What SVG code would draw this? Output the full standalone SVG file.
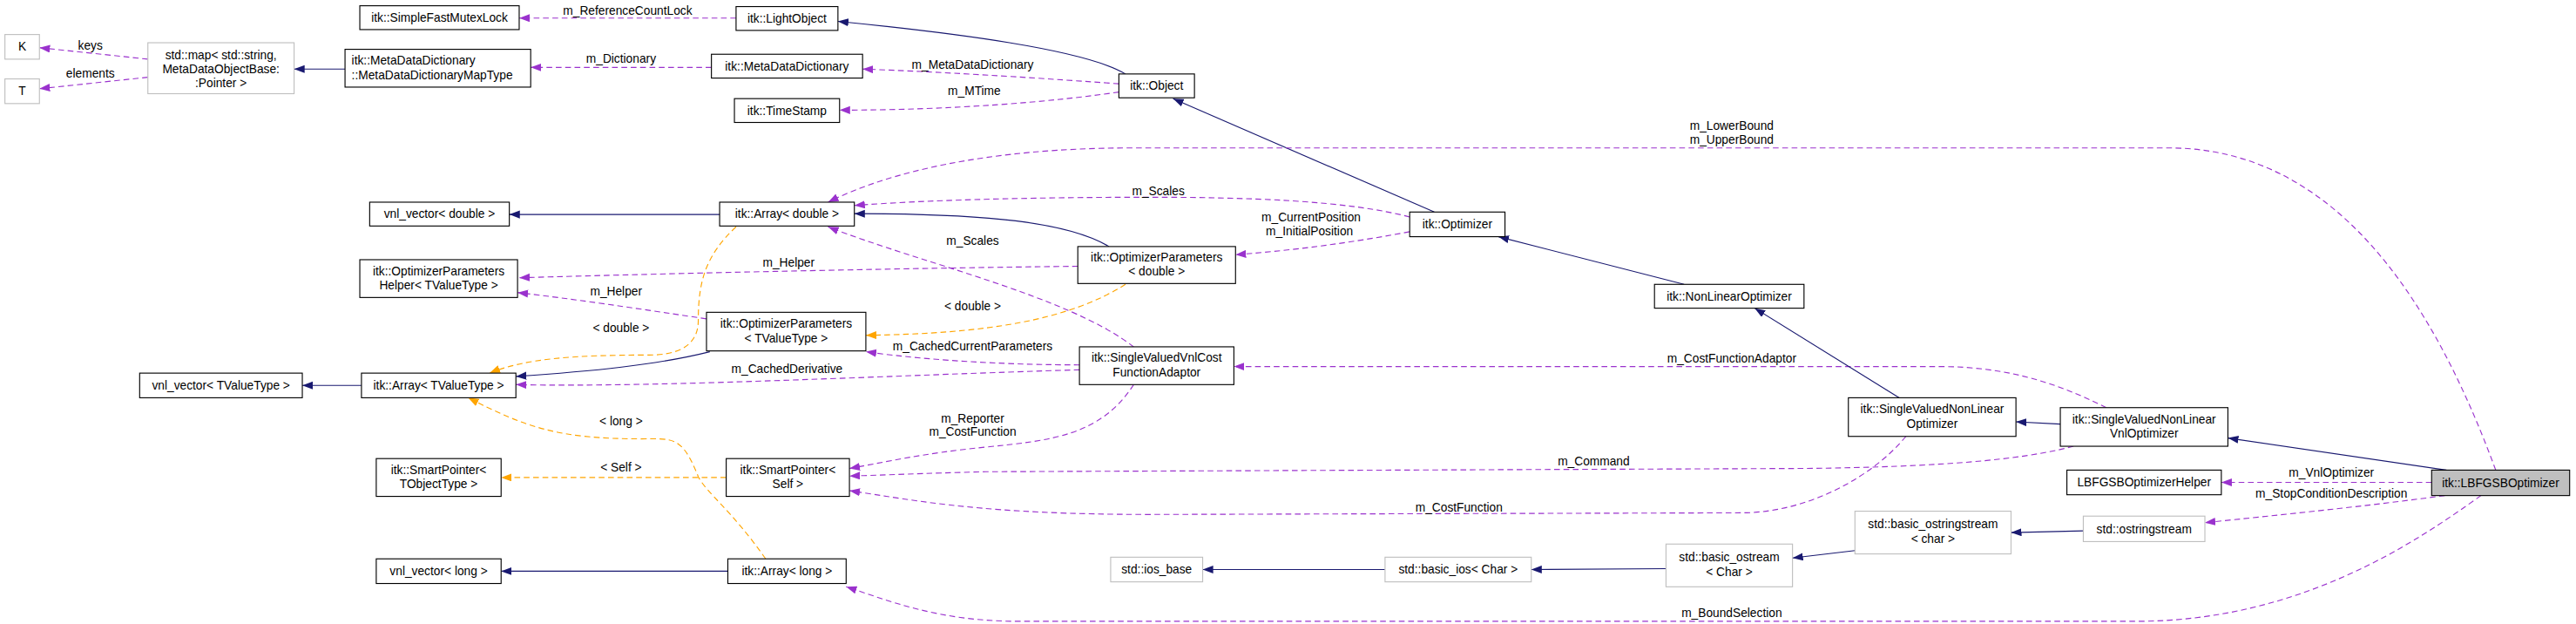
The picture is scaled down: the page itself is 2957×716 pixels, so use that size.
<svg xmlns="http://www.w3.org/2000/svg" width="2957" height="716" viewBox="0 0 2957 716">
<style>
text{font-family:"Liberation Sans","DejaVu Sans",sans-serif;font-size:7.3px;fill:#000}
.c{text-anchor:middle}
.b{fill:#fff;stroke:#000;stroke-width:0.6}
.g{fill:#fff;stroke:#bfbfbf;stroke-width:0.6}
.s{fill:#bfbfbf;stroke:#000;stroke-width:0.6}
.inh{fill:none;stroke:#191970;stroke-width:0.6;marker-end:url(#an)}
.use{fill:none;stroke:#9a32cd;stroke-width:0.6;stroke-dasharray:3.5,2.2;marker-end:url(#ap)}
.tpl{fill:none;stroke:#ffa500;stroke-width:0.6;stroke-dasharray:3.5,2.2;marker-end:url(#ao)}
</style>
<defs>
<marker id="an" markerUnits="userSpaceOnUse" markerWidth="7" markerHeight="5" refX="6.4" refY="2.4" orient="auto"><path d="M0,0 L6.4,2.4 L0,4.8z" fill="#191970"/></marker>
<marker id="ap" markerUnits="userSpaceOnUse" markerWidth="7" markerHeight="5" refX="6.4" refY="2.4" orient="auto"><path d="M0,0 L6.4,2.4 L0,4.8z" fill="#9a32cd"/></marker>
<marker id="ao" markerUnits="userSpaceOnUse" markerWidth="7" markerHeight="5" refX="6.4" refY="2.4" orient="auto"><path d="M0,0 L6.4,2.4 L0,4.8z" fill="#ffa500"/></marker>
</defs>
<rect width="2957" height="716" fill="#fff"/>
<g transform="scale(1.886)">
<g id="edges">
<path class="use" d="M90,36 L24,29"/><text class="c" x="55" y="30">keys</text>
<path class="use" d="M90,47 L24,54"/><text class="c" x="55" y="47">elements</text>
<path class="inh" d="M210,42 L179,42"/>
<path class="use" d="M433,41 L323,41"/><text class="c" x="378" y="38">m_Dictionary</text>
<path class="use" d="M448,11 L316,11"/><text class="c" x="382" y="9">m_ReferenceCountLock</text>
<path class="inh" d="M685,45 C660,30 580,20 510,13"/>
<path class="use" d="M681,51 C640,48 580,44 525,42"/><text class="c" x="592" y="42">m_MetaDataDictionary</text>
<path class="use" d="M681,56 C640,62 580,67 511,67"/><text class="c" x="593" y="58">m_MTime</text>
<path class="inh" d="M873,129 L714,60"/>
<path class="inh" d="M438,130.5 L310,130.5"/>
<path class="use" d="M1519,286 C1480,180 1420,90 1320,90 L690,90 C600,90 540,105 504,123"/>
<text class="c" x="1054" y="79">m_LowerBound</text><text class="c" x="1054" y="87.5">m_UpperBound</text>
<path class="use" d="M858,132 C820,122 760,120 700,120 C620,120 560,122 520,125"/><text class="c" x="705" y="119">m_Scales</text>
<path class="inh" d="M675,150 C650,135 600,130 520,130"/>
<path class="use" d="M858,141 C820,148 790,152 752,155"/>
<text class="c" x="798" y="134.5">m_CurrentPosition</text><text class="c" x="797" y="143">m_InitialPosition</text>
<path class="use" d="M690,211 C650,180 560,160 504,138"/><text class="c" x="592" y="149">m_Scales</text>
<path class="tpl" d="M448,138 C430,155 425,170 425,195 C425,212 410,216 395,216 C350,216 320,218 298,227"/><text class="c" x="378" y="202">&lt; double &gt;</text>
<path class="use" d="M656,162 C560,163 420,166 316,169"/><text class="c" x="480" y="162">m_Helper</text>
<path class="use" d="M430,194 C390,188 350,182 315,178"/><text class="c" x="375" y="180">m_Helper</text>
<path class="tpl" d="M685,173 C650,195 600,203 527,204"/><text class="c" x="592" y="189">&lt; double &gt;</text>
<path class="inh" d="M432,214 C400,222 360,226 314,229"/>
<path class="use" d="M657,222 C620,222 570,220 527,214"/><text class="c" x="592" y="213">m_CachedCurrentParameters</text>
<path class="use" d="M657,225 C550,228 400,236 314,234"/><text class="c" x="479" y="227">m_CachedDerivative</text>
<path class="inh" d="M220,234.5 L184,234.5"/>
<path class="use" d="M690,234 C670,265 640,268 600,272 C560,276 540,281 517,285"/>
<text class="c" x="592" y="257">m_Reporter</text><text class="c" x="592" y="265">m_CostFunction</text>
<path class="tpl" d="M442,290.5 L305,290.5"/><text class="c" x="378" y="287">&lt; Self &gt;</text>
<path class="use" d="M1262,271.5 C1230,280 1180,284 1100,285 L600,287 C560,288 540,289 517,289.6"/><text class="c" x="970" y="283">m_Command</text>
<path class="use" d="M1160,265.5 C1140,290 1100,312 1060,312 L700,313 C600,313 560,305 517,298.5"/><text class="c" x="888" y="311">m_CostFunction</text>
<path class="use" d="M1282,248 C1250,232 1220,223 1180,223 L751,223"/><text class="c" x="1054" y="220.5">m_CostFunctionAdaptor</text>
<path class="inh" d="M1156,242 L1068,187.5"/>
<path class="inh" d="M1025,173 L912,144"/>
<path class="inh" d="M1254,258 L1227,256.6"/>
<path class="inh" d="M1489,286 L1356,266.5"/>
<path class="use" d="M1480,293.5 L1352,293.5"/><text class="c" x="1419" y="290">m_VnlOptimizer</text>
<path class="use" d="M1488,301.5 C1440,308 1390,313 1342,318"/><text class="c" x="1419" y="303">m_StopConditionDescription</text>
<path class="use" d="M1510,301.5 C1470,330 1400,378 1300,378 L620,378 C570,378 540,365 515,357"/><text class="c" x="1054" y="375.5">m_BoundSelection</text>
<path class="tpl" d="M466,340 C445,310 430,300 425,290 C415,265 410,267 390,267 C340,267 320,260 285,242"/><text class="c" x="378" y="259">&lt; long &gt;</text>
<path class="inh" d="M443,347.5 L305,347.5"/>
<path class="inh" d="M1268,323 L1224,324"/>
<path class="inh" d="M1129,335 L1091,339.5"/>
<path class="inh" d="M1014,346 L932,346.5"/>
<path class="inh" d="M843,346.5 L732,346.5"/>
</g>
<g id="n1"><rect class="g" x="3" y="21" width="21" height="15"/><text class="c" x="13.5" y="31">K</text></g>
<g id="n2"><rect class="g" x="3" y="48" width="21" height="15"/><text class="c" x="13.5" y="58">T</text></g>
<g id="n3"><rect class="g" x="90" y="26" width="89" height="31"/><text class="c" x="134.5" y="36">std::map&lt; std::string,</text><text class="c" x="134.5" y="44.5">MetaDataObjectBase:</text><text class="c" x="134.5" y="53">:Pointer &gt;</text></g>
<g id="n4"><rect class="b" x="210" y="30" width="113" height="23"/><text x="214" y="39.5">itk::MetaDataDictionary</text><text x="214" y="48.5">::MetaDataDictionaryMapType</text></g>
<g id="n5"><rect class="b" x="219" y="3.5" width="97" height="14.5"/><text class="c" x="267.5" y="13.3">itk::SimpleFastMutexLock</text></g>
<g id="n6"><rect class="b" x="448" y="4" width="62" height="14.5"/><text class="c" x="479" y="13.8">itk::LightObject</text></g>
<g id="n7"><rect class="b" x="433" y="33" width="92" height="14.5"/><text class="c" x="479" y="42.8">itk::MetaDataDictionary</text></g>
<g id="n8"><rect class="b" x="447" y="60" width="64" height="14.5"/><text class="c" x="479" y="69.8">itk::TimeStamp</text></g>
<g id="n9"><rect class="b" x="681" y="45" width="46" height="14.5"/><text class="c" x="704" y="54.8">itk::Object</text></g>
<g id="n10"><rect class="b" x="225" y="123" width="85" height="14.5"/><text class="c" x="267.5" y="132.8">vnl_vector&lt; double &gt;</text></g>
<g id="n11"><rect class="b" x="438" y="123" width="82" height="14.5"/><text class="c" x="479" y="132.8">itk::Array&lt; double &gt;</text></g>
<g id="n12"><rect class="b" x="858" y="129" width="58" height="15"/><text class="c" x="887" y="139">itk::Optimizer</text></g>
<g id="n13"><rect class="b" x="219" y="158" width="96" height="23"/><text class="c" x="267" y="167.3">itk::OptimizerParameters</text><text class="c" x="267" y="176.1">Helper&lt; TValueType &gt;</text></g>
<g id="n14"><rect class="b" x="656" y="150" width="96" height="22.5"/><text class="c" x="704" y="159">itk::OptimizerParameters</text><text class="c" x="704" y="167.8">&lt; double &gt;</text></g>
<g id="n15"><rect class="b" x="1007" y="173" width="91" height="14.5"/><text class="c" x="1052.5" y="182.8">itk::NonLinearOptimizer</text></g>
<g id="n16"><rect class="b" x="430" y="190" width="97" height="23.5"/><text class="c" x="478.5" y="199.5">itk::OptimizerParameters</text><text class="c" x="478.5" y="208.3">&lt; TValueType &gt;</text></g>
<g id="n17"><rect class="b" x="85" y="227" width="99" height="15"/><text class="c" x="134.5" y="237">vnl_vector&lt; TValueType &gt;</text></g>
<g id="n18"><rect class="b" x="220" y="227" width="94" height="15"/><text class="c" x="267" y="237">itk::Array&lt; TValueType &gt;</text></g>
<g id="n19"><rect class="b" x="657" y="211" width="94" height="23"/><text class="c" x="704" y="220.3">itk::SingleValuedVnlCost</text><text class="c" x="704" y="229.1">FunctionAdaptor</text></g>
<g id="n20"><rect class="b" x="1125" y="242" width="102" height="23.5"/><text class="c" x="1176" y="251.5">itk::SingleValuedNonLinear</text><text class="c" x="1176" y="260.3">Optimizer</text></g>
<g id="n21"><rect class="b" x="1254" y="248" width="102" height="23.5"/><text class="c" x="1305" y="257.5">itk::SingleValuedNonLinear</text><text class="c" x="1305" y="266.3">VnlOptimizer</text></g>
<g id="n22"><rect class="b" x="229" y="279" width="76" height="23"/><text class="c" x="267" y="288.3">itk::SmartPointer&lt;</text><text class="c" x="267" y="297.1">TObjectType &gt;</text></g>
<g id="n23"><rect class="b" x="442" y="279" width="75" height="23"/><text class="c" x="479.5" y="288.3">itk::SmartPointer&lt;</text><text class="c" x="479.5" y="297.1">Self &gt;</text></g>
<g id="n24"><rect class="b" x="1258" y="286" width="94" height="15"/><text class="c" x="1305" y="296">LBFGSBOptimizerHelper</text></g>
<g id="n25"><rect class="s" x="1480" y="286" width="84" height="15.5"/><text class="c" x="1522" y="296.3">itk::LBFGSBOptimizer</text></g>
<g id="n26"><rect class="g" x="1268" y="314" width="74" height="15.5"/><text class="c" x="1305" y="324.3">std::ostringstream</text></g>
<g id="n27"><rect class="g" x="1129" y="311" width="95" height="26"/><text class="c" x="1176.5" y="321.5">std::basic_ostringstream</text><text class="c" x="1176.5" y="330.3">&lt; char &gt;</text></g>
<g id="n28"><rect class="g" x="1014" y="331" width="77" height="26"/><text class="c" x="1052.5" y="341.5">std::basic_ostream</text><text class="c" x="1052.5" y="350.3">&lt; Char &gt;</text></g>
<g id="n29"><rect class="g" x="843" y="339" width="89" height="15"/><text class="c" x="887.5" y="349">std::basic_ios&lt; Char &gt;</text></g>
<g id="n30"><rect class="g" x="676" y="339" width="56" height="15"/><text class="c" x="704" y="349">std::ios_base</text></g>
<g id="n31"><rect class="b" x="229" y="340" width="76" height="15"/><text class="c" x="267" y="350">vnl_vector&lt; long &gt;</text></g>
<g id="n32"><rect class="b" x="443" y="340" width="72" height="15"/><text class="c" x="479" y="350">itk::Array&lt; long &gt;</text></g>
</g>
</svg>
